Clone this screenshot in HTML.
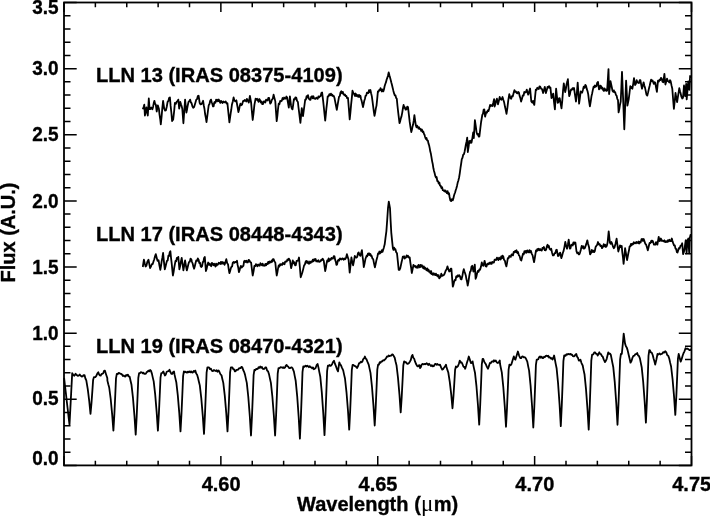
<!DOCTYPE html>
<html><head><meta charset="utf-8">
<style>
html,body{margin:0;padding:0;background:#fff;}
body{width:710px;height:517px;overflow:hidden;}
svg{display:block;will-change:transform;}
.b{font-family:"Liberation Sans",sans-serif;font-weight:bold;font-size:20.0px;fill:#000;stroke:#000;stroke-width:0.35px;}
.lab{font-size:20.1px;}
.mu{font-family:"Liberation Serif",serif;font-weight:normal;stroke-width:0;font-size:23px;}
</style></head><body>
<svg width="710" height="517" viewBox="0 0 710 517">
<rect x="64.0" y="2.5" width="627.5" height="462.9" fill="none" stroke="#000" stroke-width="1.8"/>
<path d="M64.00 465.4V456.00M64.00 2.5V11.90M95.37 465.4V460.70M95.37 2.5V7.20M126.75 465.4V460.70M126.75 2.5V7.20M158.13 465.4V460.70M158.13 2.5V7.20M189.50 465.4V460.70M189.50 2.5V7.20M220.87 465.4V456.00M220.87 2.5V11.90M252.25 465.4V460.70M252.25 2.5V7.20M283.63 465.4V460.70M283.63 2.5V7.20M315.00 465.4V460.70M315.00 2.5V7.20M346.37 465.4V460.70M346.37 2.5V7.20M377.75 465.4V456.00M377.75 2.5V11.90M409.13 465.4V460.70M409.13 2.5V7.20M440.50 465.4V460.70M440.50 2.5V7.20M471.87 465.4V460.70M471.87 2.5V7.20M503.25 465.4V460.70M503.25 2.5V7.20M534.63 465.4V456.00M534.63 2.5V11.90M566.00 465.4V460.70M566.00 2.5V7.20M597.37 465.4V460.70M597.37 2.5V7.20M628.75 465.4V460.70M628.75 2.5V7.20M660.13 465.4V460.70M660.13 2.5V7.20M691.50 465.4V456.00M691.50 2.5V11.90M64.0 465.40H76.70M691.5 465.40H678.80M64.0 452.17H70.50M691.5 452.17H685.00M64.0 438.95H70.50M691.5 438.95H685.00M64.0 425.72H70.50M691.5 425.72H685.00M64.0 412.50H70.50M691.5 412.50H685.00M64.0 399.27H76.70M691.5 399.27H678.80M64.0 386.05H70.50M691.5 386.05H685.00M64.0 372.82H70.50M691.5 372.82H685.00M64.0 359.59H70.50M691.5 359.59H685.00M64.0 346.37H70.50M691.5 346.37H685.00M64.0 333.14H76.70M691.5 333.14H678.80M64.0 319.92H70.50M691.5 319.92H685.00M64.0 306.69H70.50M691.5 306.69H685.00M64.0 293.47H70.50M691.5 293.47H685.00M64.0 280.24H70.50M691.5 280.24H685.00M64.0 267.01H76.70M691.5 267.01H678.80M64.0 253.79H70.50M691.5 253.79H685.00M64.0 240.56H70.50M691.5 240.56H685.00M64.0 227.34H70.50M691.5 227.34H685.00M64.0 214.11H70.50M691.5 214.11H685.00M64.0 200.89H76.70M691.5 200.89H678.80M64.0 187.66H70.50M691.5 187.66H685.00M64.0 174.43H70.50M691.5 174.43H685.00M64.0 161.21H70.50M691.5 161.21H685.00M64.0 147.98H70.50M691.5 147.98H685.00M64.0 134.76H76.70M691.5 134.76H678.80M64.0 121.53H70.50M691.5 121.53H685.00M64.0 108.31H70.50M691.5 108.31H685.00M64.0 95.08H70.50M691.5 95.08H685.00M64.0 81.85H70.50M691.5 81.85H685.00M64.0 68.63H76.70M691.5 68.63H678.80M64.0 55.40H70.50M691.5 55.40H685.00M64.0 42.18H70.50M691.5 42.18H685.00M64.0 28.95H70.50M691.5 28.95H685.00M64.0 15.73H70.50M691.5 15.73H685.00M64.0 2.50H76.70M691.5 2.50H678.80" stroke="#000" stroke-width="1.5" fill="none"/>
<polyline points="142.8,109.2 143.6,107.1 144.3,104.7 144.9,115.5 145.7,111.9 146.4,107.5 147.1,111.9 147.8,115.5 148.8,98.5 149.6,109.2 150.4,109.1 151.3,107.5 152.4,109.2 153.1,106.7 153.7,103.3 154.4,100.8 155.1,103.9 155.8,104.7 156.7,111.5 157.8,105.3 158.9,108.7 159.5,114.3 160.2,119.0 160.8,124.4 161.6,116.7 162.3,108.3 163.1,100.8 164.2,108.7 165.1,110.5 165.9,110.4 166.8,106.5 167.6,101.9 168.4,100.9 169.1,98.0 169.9,97.4 170.6,105.7 171.4,113.0 172.1,121.1 173.2,119.4 174.1,111.6 174.9,103.0 175.8,103.8 176.6,101.9 177.4,101.2 178.3,99.6 179.2,108.7 180.3,101.9 181.0,104.3 181.6,106.1 182.3,108.7 183.4,123.3 184.2,111.9 185.1,99.6 185.8,106.4 186.4,112.6 187.1,109.2 187.8,105.2 188.5,101.9 189.3,101.2 190.1,99.6 190.9,102.5 191.6,103.2 192.4,106.4 193.2,107.7 194.1,107.0 194.8,104.7 195.6,101.9 196.3,99.6 197.1,99.0 197.8,96.1 198.6,95.7 199.7,103.0 200.6,104.4 201.4,104.2 202.2,103.0 203.1,100.8 203.8,105.5 204.5,109.0 205.1,114.0 205.8,117.7 206.5,122.2 207.2,117.0 208.0,110.5 208.7,105.3 209.5,104.0 210.2,100.7 211.0,99.6 211.7,102.2 212.3,103.8 213.0,106.4 213.6,106.3 214.3,102.5 214.9,101.9 215.5,102.7 216.1,99.6 216.7,101.0 217.3,99.7 218.0,101.3 218.8,99.5 219.5,101.4 220.3,102.9 221.0,100.8 221.8,102.0 222.5,103.1 223.3,101.5 224.0,102.0 224.8,102.4 225.7,101.4 226.6,103.5 227.4,103.1 228.1,109.8 228.7,115.7 229.4,122.3 230.0,118.2 230.7,113.2 231.3,109.5 231.9,104.8 232.8,101.4 233.6,97.5 234.4,100.4 235.3,101.4 236.4,100.3 237.1,104.5 237.7,107.8 238.4,112.1 239.1,109.6 239.7,106.2 240.4,103.7 241.2,105.2 242.0,104.8 243.2,100.8 243.9,101.1 244.7,100.0 245.4,100.3 246.2,101.5 246.9,98.8 247.7,100.3 248.8,102.5 249.9,95.8 251.1,102.5 251.9,111.6 252.7,120.0 253.6,112.7 254.4,104.8 255.6,98.6 256.3,99.8 257.1,98.8 257.8,100.3 258.6,101.8 259.3,99.0 260.1,100.3 260.8,102.6 261.6,101.5 262.3,104.2 263.1,104.0 263.8,101.3 264.6,101.4 265.3,102.5 266.1,99.6 266.8,100.3 267.6,100.5 268.3,98.0 269.1,98.0 270.2,103.7 271.0,102.7 271.9,99.7 272.8,98.6 273.6,94.6 274.5,98.1 275.3,101.4 276.0,111.6 276.7,121.1 277.4,115.7 278.0,109.1 278.7,103.7 279.4,104.2 280.2,100.9 280.9,101.4 281.8,100.7 282.6,98.0 283.4,99.2 284.1,97.5 284.9,98.6 285.6,98.7 286.4,96.5 287.1,97.5 288.0,102.9 288.8,107.6 289.9,96.3 290.5,101.3 291.1,105.9 291.8,108.6 292.5,109.3 293.2,104.5 293.9,99.2 294.7,99.5 295.4,97.3 296.2,97.5 297.0,100.8 297.9,102.0 298.5,107.5 299.1,112.1 299.8,117.9 300.4,122.8 301.1,115.6 301.8,108.2 303.0,116.1 303.7,110.8 304.5,105.0 305.2,99.7 305.9,99.6 306.6,96.1 307.3,97.6 308.0,95.2 308.9,98.7 309.7,99.7 310.5,99.9 311.2,96.7 312.0,96.3 312.7,98.2 313.4,96.3 314.1,98.6 314.8,98.6 315.5,98.9 316.3,97.7 317.0,98.0 317.7,98.8 318.4,96.4 319.2,97.3 319.9,96.3 320.6,96.1 321.4,92.9 322.1,92.4 323.2,101.4 323.9,108.0 324.5,114.0 325.2,120.6 325.8,114.8 326.4,108.3 327.1,102.6 327.7,96.3 328.5,96.4 329.4,94.1 330.1,95.2 330.9,93.6 331.6,95.4 332.3,94.6 333.0,96.2 333.8,96.0 334.5,98.0 335.3,102.2 336.0,105.7 336.8,109.9 337.5,105.7 338.3,100.8 339.0,96.9 339.8,96.0 340.5,92.5 341.3,91.3 342.0,93.3 342.8,91.9 343.5,94.1 344.2,95.0 344.9,94.5 345.6,96.0 346.3,95.8 347.1,98.1 348.0,98.0 348.9,108.9 349.7,119.4 350.4,112.6 351.1,104.7 351.8,98.2 352.5,90.7 353.4,93.1 354.2,94.1 354.9,95.9 355.6,93.5 356.2,96.1 356.9,94.8 357.6,95.8 358.3,96.9 359.0,94.9 359.7,96.9 360.4,95.8 361.0,98.8 361.7,101.1 362.4,104.4 363.0,107.0 363.6,104.4 364.2,101.0 364.9,99.0 365.5,95.8 366.2,95.6 367.0,92.6 367.7,93.0 368.4,93.0 369.0,90.1 369.7,92.0 370.4,90.0 371.1,93.3 371.8,96.1 372.5,101.2 373.1,105.8 373.8,111.3 374.5,115.8 375.2,112.5 375.8,108.6 376.5,105.6 377.2,98.9 377.9,91.4 378.5,91.7 379.2,90.0 379.9,90.4 380.5,88.2 381.2,89.4 381.9,91.5 382.6,89.5 383.3,91.4 384.0,89.2 384.6,86.2 385.3,84.0 386.0,82.2 386.6,79.7 387.3,77.9 388.0,75.5 388.7,72.4 389.4,75.2 390.0,77.2 390.7,79.9 391.4,82.8 392.0,85.0 392.7,88.0 393.4,90.9 394.1,93.4 394.8,95.4 395.5,95.5 396.1,97.9 396.8,98.8 397.5,106.0 398.2,112.4 398.9,118.2 399.5,123.2 400.2,121.1 400.8,118.5 401.5,116.4 402.2,112.8 402.9,108.3 403.6,104.9 404.3,107.8 404.9,107.3 405.6,109.7 406.4,109.5 407.2,106.7 408.0,107.0 408.9,114.8 409.7,121.9 410.5,127.4 411.3,132.0 411.9,129.8 412.5,126.7 413.1,124.6 413.8,120.2 414.4,115.1 415.1,120.4 415.8,125.2 416.5,127.3 417.1,125.6 417.8,126.9 418.5,128.6 419.1,127.3 419.8,129.0 420.5,128.8 421.2,130.9 421.9,129.5 422.6,132.1 423.3,131.5 423.9,133.7 424.5,134.8 425.1,137.0 425.8,138.8 426.5,138.0 427.2,140.5 427.9,140.7 428.5,143.6 429.1,145.3 429.7,148.1 430.3,151.6 430.9,153.8 431.5,157.3 432.1,161.1 432.8,164.3 433.4,168.3 434.0,170.9 434.6,173.0 435.2,175.6 435.9,177.5 436.6,177.0 437.3,181.0 438.0,181.1 438.7,183.6 439.4,182.6 440.0,185.6 440.7,185.7 441.4,188.1 442.1,187.2 442.8,190.2 443.5,190.3 444.2,191.2 444.9,190.2 445.5,191.7 446.2,191.2 446.9,193.1 447.6,191.1 448.3,194.0 449.0,193.1 449.6,197.0 450.3,200.4 451.1,201.1 451.9,199.1 452.7,200.4 453.3,198.7 453.9,196.0 454.5,194.0 455.1,192.5 455.7,190.2 456.3,188.5 457.0,185.9 457.7,182.6 458.4,180.4 459.1,177.5 459.8,173.1 460.5,167.9 461.1,164.0 461.8,159.1 462.5,157.8 463.2,154.8 463.9,154.3 464.6,151.7 465.2,148.5 465.9,144.5 466.6,141.5 467.2,137.6 467.8,152.0 468.6,146.8 469.3,141.0 470.0,143.0 470.8,140.7 471.5,142.7 472.4,137.8 473.2,132.5 473.8,138.2 474.9,120.1 475.8,126.5 476.6,132.5 477.3,134.5 478.0,133.9 478.7,136.6 479.4,136.5 480.2,129.4 481.1,122.0 482.3,115.0 483.0,113.6 483.6,109.8 484.3,109.4 485.1,116.7 486.2,112.2 487.0,112.6 487.7,110.4 488.5,111.1 489.3,108.3 490.1,104.9 490.9,106.0 491.6,105.1 492.4,106.0 493.2,103.0 494.1,99.2 494.6,106.5 495.4,104.3 496.1,100.9 496.9,98.7 498.0,104.3 498.9,100.8 499.7,97.0 500.5,99.1 501.4,99.8 502.5,97.0 503.4,100.1 504.2,102.6 505.0,106.8 505.7,109.8 506.5,113.9 507.4,107.8 508.2,100.9 509.3,94.2 510.4,98.1 511.2,98.7 511.9,96.2 512.7,96.4 513.5,93.6 514.4,90.2 515.1,91.9 515.9,91.4 516.6,93.0 517.4,93.4 518.1,91.9 518.9,92.5 519.6,95.9 520.4,98.2 521.1,101.5 522.0,98.7 522.8,95.3 523.6,95.5 524.3,92.0 525.1,92.5 526.0,91.9 526.8,89.6 527.5,92.4 528.2,94.7 528.8,92.9 529.5,90.3 530.1,88.5 531.3,101.5 532.1,102.5 533.0,100.9 533.6,103.3 534.3,104.9 535.0,97.5 535.8,89.6 536.5,90.0 537.3,87.8 538.0,88.5 538.8,89.0 539.5,86.3 540.3,86.8 541.1,88.7 542.0,89.1 543.1,93.0 544.0,90.0 544.8,86.8 545.9,93.0 546.8,90.1 547.6,86.8 548.3,87.5 549.0,86.1 549.7,87.8 550.4,87.4 551.5,98.1 552.4,96.4 553.2,93.6 554.0,101.8 554.9,109.4 555.5,99.3 556.1,88.7 556.9,96.2 557.7,102.9 558.4,102.3 559.0,98.4 559.7,98.2 560.6,103.4 561.5,108.3 562.3,100.3 563.0,91.2 563.8,83.3 564.5,87.9 565.2,92.1 565.9,88.8 566.5,84.6 567.2,82.1 567.9,79.2 568.5,88.0 569.2,96.1 569.9,94.3 570.5,91.2 571.2,89.4 571.9,89.8 572.6,88.1 573.3,89.3 574.0,88.0 574.7,92.9 575.3,96.8 576.0,101.5 576.9,92.5 577.7,82.6 578.4,93.3 579.1,103.6 579.9,97.9 580.7,91.4 581.4,92.5 582.1,92.7 582.9,89.9 583.7,86.7 584.5,87.9 585.3,84.9 586.1,86.0 586.8,89.1 587.5,91.0 588.2,94.1 589.0,100.6 589.9,106.3 590.7,101.6 591.5,96.1 592.2,93.2 592.9,89.6 593.6,86.7 594.3,87.3 594.9,85.5 595.6,86.7 596.4,86.3 597.2,82.8 598.0,81.9 599.0,89.4 599.7,88.8 600.3,85.7 601.0,86.0 601.7,88.6 602.4,87.6 603.1,90.0 603.8,90.9 604.5,88.4 605.1,90.5 605.8,89.4 606.5,90.9 607.1,90.7 607.8,80.1 608.5,69.1 609.1,94.1 609.8,87.9 610.5,81.2 611.2,84.5 611.8,87.2 612.5,90.7 613.2,91.9 613.9,90.4 614.5,92.3 615.2,92.1 615.9,94.9 616.6,95.6 617.3,98.8 618.0,100.2 618.6,112.4 619.3,109.0 620.0,104.7 620.7,101.5 621.4,86.9 622.0,71.8 622.7,89.0 623.4,105.6 624.3,129.3 624.9,113.4 625.5,96.6 626.1,80.6 626.8,93.2 627.4,105.6 628.0,102.8 628.7,99.4 629.5,93.0 630.3,86.1 631.0,88.1 631.7,86.9 632.4,88.7 633.2,83.8 634.0,78.1 635.1,85.0 635.9,83.8 636.7,80.2 637.5,82.3 638.3,82.9 639.0,83.0 639.7,80.1 640.4,80.2 641.2,84.7 642.0,88.7 642.8,85.8 643.6,82.3 644.3,85.5 645.0,87.6 645.7,90.9 646.5,94.7 647.3,95.6 648.1,92.4 648.9,88.7 649.6,86.0 650.4,82.5 651.1,79.7 651.8,81.1 652.5,80.4 653.2,82.3 653.9,83.9 654.6,82.1 655.3,82.9 656.1,87.8 656.9,91.9 658.0,80.7 658.8,81.6 659.6,79.7 660.3,80.1 661.0,77.8 661.7,78.6 662.5,81.8 663.3,82.3 664.4,73.8 665.4,84.5 666.2,81.8 667.0,78.6 667.8,81.1 668.6,81.3 669.3,82.5 670.0,80.2 670.7,81.3 671.5,85.4 672.3,88.7 673.1,99.2 673.9,108.9 674.7,101.4 675.5,93.0 676.3,97.8 677.1,102.0 677.8,97.6 678.6,92.6 679.3,88.2 680.0,91.2 680.7,93.6 681.4,96.7 682.2,98.5 683.0,97.8 684.0,85.5 685.1,96.2 686.2,83.9 686.7,99.4 687.5,90.5 688.3,81.3 689.4,89.8 690.1,76.0 691.0,78.0" fill="none" stroke="#000" stroke-width="1.8" stroke-linejoin="round"/>
<polyline points="142.8,267.0 143.9,259.7 144.8,263.5 145.6,266.5 146.4,265.7 147.3,262.0 148.5,259.7 149.3,264.1 150.1,268.2 150.9,266.7 151.8,264.2 152.7,264.1 153.5,261.4 154.3,259.3 155.0,256.2 155.8,254.1 156.7,257.7 157.5,260.8 158.6,260.3 159.4,265.4 160.3,269.9 161.0,266.0 161.7,261.1 162.4,257.4 163.1,253.0 163.9,261.4 164.8,269.3 165.5,266.7 166.3,263.3 167.0,260.8 167.7,260.4 168.4,255.6 169.0,256.1 169.7,252.3 170.4,251.3 171.0,257.6 171.7,263.3 172.3,269.6 172.9,275.5 173.6,272.1 174.2,267.9 174.8,264.7 175.5,260.8 176.2,261.2 176.9,257.8 177.6,258.9 178.3,256.9 179.4,269.3 180.2,265.7 180.9,261.6 181.7,258.0 182.6,264.4 183.4,270.4 184.2,265.5 185.1,260.3 185.9,265.6 186.8,270.4 187.5,268.0 188.3,264.5 189.0,262.0 189.8,261.7 190.5,258.7 191.3,259.2 192.0,262.0 192.7,263.6 193.4,266.7 194.1,268.7 194.8,266.3 195.6,262.7 196.3,260.3 197.1,260.9 197.8,258.4 198.6,259.7 199.3,263.0 200.0,262.7 200.7,266.4 201.4,267.0 202.1,266.2 202.8,262.0 203.4,261.9 204.1,258.0 204.8,256.9 205.9,271.0 206.7,268.6 207.4,265.0 208.2,262.5 208.9,264.8 209.7,263.6 210.4,265.4 211.2,266.2 211.9,262.9 212.7,263.7 213.4,265.2 214.2,263.8 214.9,265.4 215.5,266.5 216.1,263.6 216.7,265.5 217.3,264.2 218.0,264.5 218.8,262.7 219.5,263.1 220.2,264.0 220.9,261.9 221.6,263.7 222.3,262.0 223.1,263.7 223.8,262.5 224.6,264.8 225.4,262.2 226.3,259.2 227.2,263.2 228.0,264.2 228.7,269.1 229.4,273.2 230.0,271.4 230.7,268.8 231.3,267.0 232.1,266.5 232.8,262.6 233.6,262.0 234.4,262.8 235.3,262.0 236.2,262.1 237.0,260.8 237.6,264.9 238.3,267.9 238.9,272.1 239.6,270.4 240.2,267.8 240.9,265.9 241.8,267.5 242.6,266.5 243.4,265.8 244.1,261.3 244.9,260.8 245.6,262.0 246.4,260.7 247.1,262.5 247.9,262.3 248.6,259.9 249.4,260.3 250.2,262.1 251.1,262.5 251.9,269.2 252.7,275.5 253.6,271.1 254.4,265.9 255.2,266.1 255.9,264.2 256.7,264.8 257.4,266.3 258.2,264.5 258.9,265.4 259.7,265.7 260.4,263.2 261.2,264.2 261.9,265.4 262.6,263.6 263.3,265.6 264.0,265.4 264.7,265.8 265.4,263.9 266.1,265.3 266.8,263.7 267.5,264.0 268.2,261.8 268.8,263.5 269.5,261.5 270.2,262.5 270.9,262.3 271.6,260.5 272.2,261.8 272.9,259.2 273.6,259.2 274.5,261.5 275.3,262.5 276.0,269.4 276.7,275.5 277.4,272.4 278.0,268.6 278.7,265.4 279.4,266.6 280.1,264.2 280.8,265.0 281.5,264.2 282.2,264.8 283.0,262.8 283.7,263.7 284.5,264.2 285.2,261.6 286.0,261.4 286.7,261.5 287.4,259.5 288.1,260.2 288.8,258.6 290.0,260.4 291.1,268.2 292.0,264.7 292.8,260.4 293.6,263.3 294.3,262.3 295.1,265.4 295.8,265.1 296.6,261.0 297.3,260.9 298.1,260.4 299.0,257.5 299.9,267.7 300.7,277.3 301.5,275.0 302.4,272.2 303.2,269.1 304.1,265.4 304.8,264.7 305.6,261.8 306.3,260.9 307.1,262.8 307.8,261.4 308.6,263.7 309.3,263.7 310.0,261.5 310.7,262.9 311.4,261.5 312.1,261.9 312.8,259.7 313.5,261.2 314.2,259.2 314.9,260.3 315.6,259.0 316.3,261.4 317.0,260.9 317.7,261.5 318.4,260.2 319.2,261.9 319.9,261.5 320.6,261.3 321.3,259.6 322.0,260.0 322.7,258.7 323.8,260.9 324.5,266.2 325.2,271.1 325.9,267.9 326.5,263.7 327.2,260.4 327.9,261.6 328.6,258.4 329.3,261.0 330.0,259.2 330.8,259.7 331.5,257.9 332.3,258.7 333.0,258.6 333.8,256.1 334.5,256.4 335.1,259.6 335.8,261.7 336.4,264.9 337.1,264.4 337.8,260.8 338.5,259.8 339.2,260.5 340.0,258.4 340.7,259.2 341.5,259.5 342.2,258.4 343.0,258.7 343.7,259.7 344.5,258.5 345.2,259.2 346.0,257.9 346.9,254.2 347.8,257.2 348.6,259.8 349.7,272.7 350.5,265.3 351.4,257.5 352.2,261.6 353.1,265.4 354.0,260.8 354.8,255.8 355.6,257.3 356.5,257.5 357.2,256.8 358.0,253.2 358.7,252.5 359.5,254.9 360.4,255.8 361.1,253.3 361.9,250.2 362.5,256.0 363.2,261.0 363.8,267.1 364.6,263.3 365.5,258.7 366.6,255.8 367.2,256.4 367.9,253.6 368.5,254.9 369.1,253.3 369.7,255.0 370.4,254.0 371.0,256.1 371.6,255.8 372.4,258.5 373.2,259.1 374.0,263.4 374.9,267.3 375.7,263.8 376.5,259.9 377.3,257.0 378.1,253.3 378.7,253.7 379.4,251.5 380.0,253.5 380.6,251.7 381.2,252.4 381.9,250.1 382.5,251.9 383.1,250.0 383.9,247.4 384.7,244.3 385.5,237.8 386.4,231.1 387.2,220.0 388.0,208.1 388.8,201.6 390.0,208.1 390.6,220.6 391.3,232.8 392.1,240.8 392.9,248.4 393.5,249.9 394.1,247.6 394.8,249.5 395.4,249.2 396.2,252.2 397.0,253.3 397.9,261.8 398.7,269.8 399.5,269.9 400.3,268.1 400.9,265.4 401.6,262.0 402.2,259.6 402.8,256.6 403.4,257.5 404.1,256.2 404.7,258.6 405.3,257.4 406.0,257.5 406.6,255.4 407.3,256.9 408.0,255.8 408.9,257.7 409.7,257.4 410.4,262.9 411.1,267.5 411.8,273.0 412.6,269.3 413.5,264.8 414.3,266.5 415.1,265.9 415.9,267.3 416.6,267.6 417.2,266.1 417.9,267.7 418.5,264.9 419.2,265.7 419.9,267.3 420.5,264.8 421.2,266.7 421.8,265.2 422.5,266.5 423.2,268.2 423.8,266.3 424.5,268.9 425.1,267.6 425.8,268.9 426.5,270.2 427.2,268.4 427.9,270.9 428.5,269.6 429.2,271.9 429.9,271.4 430.5,273.3 431.1,271.0 431.7,274.2 432.3,273.2 433.0,274.9 433.8,273.2 434.5,274.3 435.2,275.1 435.9,273.6 436.6,275.5 437.3,274.9 437.9,276.5 438.6,275.1 439.2,278.4 439.9,277.7 440.6,276.8 441.3,273.7 442.1,275.9 443.0,275.4 443.8,275.1 444.6,273.7 445.8,270.4 446.6,269.2 447.5,266.4 448.4,269.4 449.2,271.5 449.9,271.2 450.7,268.7 451.4,268.7 452.1,277.9 452.8,286.7 453.5,284.6 454.1,281.7 454.8,279.9 455.5,280.3 456.2,276.5 456.9,277.1 457.6,275.4 458.4,276.4 459.1,275.1 459.9,276.0 460.7,278.9 461.5,279.4 462.3,276.3 463.0,272.3 463.8,269.2 464.5,271.6 465.1,273.2 465.8,275.4 466.4,279.1 467.1,281.8 467.7,285.6 468.5,281.4 469.2,276.4 470.0,272.0 470.8,270.9 471.5,266.7 472.3,265.8 473.4,271.5 474.1,268.3 474.8,264.7 475.6,278.8 476.4,276.6 477.1,273.3 477.9,270.9 478.6,271.7 479.4,269.3 480.1,269.8 481.0,266.6 481.8,262.5 482.6,265.4 483.5,265.8 484.6,260.8 485.8,266.4 486.5,266.5 487.3,263.9 488.0,263.6 488.7,264.2 489.4,262.6 490.1,263.8 490.8,262.5 491.6,263.9 492.3,261.9 493.1,262.5 493.9,262.5 494.6,259.6 495.4,259.6 496.1,260.1 496.9,257.7 497.6,258.5 498.4,260.1 499.1,257.7 499.9,259.1 500.6,259.5 501.2,256.5 501.9,258.2 502.5,255.6 503.2,256.3 504.0,259.7 504.9,260.8 505.6,264.0 506.4,266.4 507.1,262.7 507.8,258.2 508.6,258.3 509.3,256.0 510.1,256.5 510.8,256.8 511.6,254.3 512.3,254.9 513.0,255.4 513.7,251.8 514.4,252.4 515.1,250.9 515.8,252.1 516.5,250.3 517.3,253.1 518.0,252.0 518.8,255.1 519.6,256.0 520.5,259.6 521.3,260.5 522.1,257.2 523.0,253.7 523.7,254.4 524.4,251.1 525.1,252.7 525.8,250.9 526.6,252.7 527.3,250.3 528.1,252.0 528.8,252.3 529.5,250.1 530.2,252.4 530.9,250.9 531.8,253.8 532.6,255.4 533.4,259.2 534.1,262.2 534.7,258.6 535.4,254.1 536.0,250.4 536.7,251.3 537.4,249.0 538.1,250.2 538.8,248.7 539.6,250.2 540.3,249.1 541.1,250.4 541.8,250.6 542.5,247.8 543.2,248.5 543.9,247.0 544.8,250.2 545.6,250.4 546.3,249.0 546.9,246.1 547.6,244.7 548.2,247.0 548.9,246.0 549.5,248.7 550.4,249.8 551.2,248.7 552.0,252.4 552.9,255.4 553.8,255.3 554.6,253.2 555.3,253.2 556.1,250.1 556.8,249.8 557.4,253.1 558.0,256.0 558.7,255.8 559.5,253.3 560.2,252.6 561.3,258.2 562.1,255.9 562.8,253.0 563.6,250.9 564.5,246.6 565.3,241.9 566.1,245.7 567.0,248.7 567.9,244.5 568.7,239.6 569.8,248.7 570.5,248.2 571.3,244.9 572.0,244.7 572.7,245.5 573.4,242.5 574.0,244.0 574.7,242.3 575.4,242.5 576.5,251.5 577.3,253.3 578.0,252.4 578.8,254.3 579.4,254.3 580.0,252.7 580.9,249.4 581.7,245.9 582.4,247.9 583.2,246.3 583.9,248.7 584.8,248.1 585.6,245.9 586.5,243.4 587.3,240.3 588.1,243.9 589.0,247.0 590.1,254.4 591.0,253.1 591.8,249.9 592.6,252.0 593.3,250.6 594.1,252.1 594.8,251.2 595.6,247.0 596.3,245.9 597.1,245.0 598.0,242.0 598.9,244.5 599.7,244.2 600.5,246.1 601.2,245.6 602.0,248.2 602.9,247.0 603.7,244.2 604.4,246.3 605.2,244.8 605.9,247.0 606.8,245.9 607.6,242.5 608.7,231.3 609.9,242.5 610.6,243.8 611.4,242.0 612.1,243.7 613.0,246.5 613.8,248.2 614.6,247.1 615.5,243.7 616.6,238.6 617.5,245.3 618.3,251.5 619.1,248.8 620.0,245.4 620.9,247.0 621.7,245.9 622.3,252.3 623.0,257.6 623.6,263.9 624.4,256.3 625.1,248.2 625.8,252.3 626.4,255.8 627.1,260.0 627.7,256.8 628.4,253.0 629.0,250.3 629.6,246.5 630.3,246.4 631.0,243.8 631.7,245.2 632.4,243.7 633.1,244.2 633.8,242.3 634.5,243.3 635.2,242.5 636.0,243.4 636.7,241.9 637.5,242.5 638.1,243.3 638.8,241.5 639.4,243.5 640.0,242.0 640.7,242.4 641.5,239.1 642.2,239.0 642.9,240.8 643.7,239.0 644.4,241.1 645.2,243.6 646.1,244.6 647.0,247.6 647.8,250.3 648.4,248.0 649.0,245.2 649.6,242.9 650.5,243.0 651.3,240.7 651.9,242.0 652.5,240.7 653.1,242.0 654.0,244.6 654.8,244.6 655.4,244.7 656.0,242.2 656.6,242.9 657.4,244.6 658.0,241.0 658.7,236.8 659.6,241.1 660.2,240.7 660.9,238.5 661.8,240.9 662.6,240.7 663.5,241.3 664.4,240.3 665.2,242.1 666.1,241.1 667.0,242.1 667.9,240.3 668.6,241.5 669.4,239.7 670.1,241.1 671.0,241.2 671.8,238.5 672.5,241.1 673.1,242.9 674.0,245.4 674.8,245.5 675.5,248.6 676.2,249.0 676.9,252.2 677.5,252.5 678.1,250.7 678.8,248.1 679.6,248.5 680.5,245.9 681.4,245.4 682.2,243.3 683.1,254.2 683.8,252.3 684.4,249.8 685.0,245.4 685.7,240.3 686.6,253.3 687.5,240.3 688.3,238.5 689.2,253.3 689.7,238.5 690.5,235.0 691.0,236.0" fill="none" stroke="#000" stroke-width="1.8" stroke-linejoin="round"/>
<polyline points="64.1,377.9 65.0,385.8 65.9,393.4 66.8,401.5 67.7,409.0 68.6,417.1 69.5,424.7 70.4,407.6 71.3,390.2 72.2,373.1 73.2,375.0 74.3,375.8 75.6,373.8 76.7,375.1 77.7,375.8 78.7,375.6 79.7,374.5 80.7,375.8 81.7,376.5 82.6,376.3 83.6,375.1 84.5,375.1 85.4,378.5 86.3,380.4 87.8,389.4 89.3,401.6 90.5,413.8 91.5,402.8 92.4,390.4 93.1,380.1 93.9,377.2 95.3,377.2 96.3,375.9 97.3,373.6 98.3,372.3 99.1,374.5 99.9,375.5 100.7,375.7 101.6,373.9 102.4,373.9 103.2,373.3 104.1,370.9 104.9,370.6 106.1,374.4 107.3,378.0 107.4,380.6 108.3,384.3 109.2,387.5 110.7,399.0 112.2,414.8 113.4,430.6 114.4,413.6 115.3,394.3 116.0,378.4 116.8,373.9 117.7,374.0 118.7,373.0 119.6,373.1 120.4,373.9 121.3,373.8 122.1,374.7 122.9,376.0 123.8,375.5 124.6,376.4 125.4,376.5 126.2,375.0 127.1,375.6 127.9,374.7 128.8,376.4 129.7,376.9 130.6,381.0 131.5,384.8 133.0,398.2 134.5,416.5 135.7,434.7 136.7,416.2 137.6,395.3 138.3,378.0 139.1,373.1 140.0,373.1 140.9,372.2 141.8,372.3 142.6,373.3 143.4,372.6 144.3,373.9 145.1,373.9 145.9,373.6 146.8,371.8 147.6,371.8 148.4,370.6 149.2,371.3 150.1,370.0 150.9,370.6 151.9,373.6 152.8,377.6 153.7,381.4 155.2,394.6 156.7,412.6 157.9,430.6 158.9,413.4 159.8,393.8 160.5,377.7 161.3,373.1 161.5,373.1 162.4,372.8 163.3,371.4 164.9,375.5 165.7,374.7 166.6,372.0 167.4,371.4 168.4,371.2 169.5,369.8 170.5,372.3 171.5,373.9 172.3,373.9 173.2,371.9 174.0,371.4 174.5,374.4 175.4,378.4 176.3,382.2 177.8,395.4 179.3,413.4 180.5,431.4 181.5,413.4 182.4,393.0 183.1,376.2 183.9,371.4 184.7,372.4 185.5,371.7 186.3,372.3 187.1,372.6 187.9,371.6 188.8,372.2 189.6,371.4 190.4,372.4 191.2,371.4 192.0,372.3 192.8,372.6 193.7,371.0 194.5,371.7 195.3,370.6 196.2,373.5 197.1,374.7 198.0,377.7 198.9,381.7 199.8,385.4 201.3,398.4 202.8,416.1 204.0,433.9 205.0,413.9 205.9,391.3 206.6,372.6 207.4,367.3 209.0,367.3 209.9,369.1 210.9,368.7 211.8,370.6 212.9,371.1 213.9,370.0 215.0,370.6 215.8,371.0 216.7,370.3 217.5,371.7 218.4,370.4 219.2,371.4 220.3,374.0 221.5,375.3 222.4,379.2 223.3,382.9 224.8,395.9 226.3,413.7 227.5,431.4 228.5,412.2 229.4,390.4 230.1,372.4 230.9,367.3 232.4,367.3 233.2,369.1 234.1,369.4 234.9,371.4 235.7,371.1 236.5,369.8 237.3,369.8 238.1,369.6 239.0,368.4 239.8,368.1 240.6,368.1 241.5,366.9 242.3,367.3 243.2,370.0 244.1,371.8 245.0,374.6 245.9,378.9 246.8,382.9 248.3,397.0 249.8,416.3 251.0,435.5 252.0,415.8 252.9,393.5 253.6,375.1 254.4,369.8 255.3,370.3 256.1,369.0 257.0,369.0 257.8,368.9 258.6,367.2 259.5,367.9 260.3,366.5 261.1,367.8 262.0,367.0 262.8,368.8 263.6,369.0 264.4,368.9 265.3,367.4 266.1,367.3 267.1,370.5 268.1,371.4 269.1,374.6 270.0,378.9 270.9,382.9 272.4,397.0 273.9,416.3 275.1,435.5 276.1,415.3 277.0,392.4 277.7,373.5 278.5,368.1 279.6,368.2 280.6,367.2 281.7,367.3 282.5,367.9 283.4,367.3 284.2,368.1 285.0,367.6 285.8,365.6 286.6,364.9 287.4,366.2 288.3,366.6 289.1,368.1 290.3,368.1 291.5,367.3 292.5,368.1 293.9,371.6 294.8,376.4 295.7,380.8 297.2,396.3 298.7,417.5 299.9,438.6 300.9,416.9 301.8,392.4 302.5,372.2 303.3,366.4 304.4,366.8 305.6,365.6 306.4,366.5 307.3,365.6 308.1,366.4 308.9,367.2 309.8,366.2 310.6,367.3 311.4,367.3 312.2,368.4 313.0,367.4 313.8,369.2 314.6,368.9 315.6,368.0 316.6,365.2 317.6,364.0 318.5,367.6 319.4,372.3 320.3,376.8 321.8,392.4 323.3,413.8 324.5,435.1 325.5,414.2 326.4,390.6 327.1,371.2 327.9,365.6 328.7,365.9 329.5,365.0 330.3,365.9 331.1,365.6 332.1,364.2 333.0,362.0 334.0,360.7 335.0,363.9 336.0,366.4 337.0,369.3 338.0,371.4 339.3,362.3 340.1,364.2 341.0,365.4 341.8,367.3 343.2,370.4 344.1,374.6 345.0,378.5 346.5,392.3 348.0,411.0 349.2,429.7 350.2,410.2 351.1,388.2 351.8,370.0 352.6,364.8 353.3,364.8 354.5,365.9 355.7,366.4 357.0,368.0 358.1,366.0 359.1,363.1 359.9,363.1 360.8,361.8 361.6,362.3 362.4,361.4 363.2,359.1 364.1,358.3 364.9,356.5 365.7,358.6 366.5,359.3 367.3,361.4 368.7,364.6 369.6,368.9 370.5,372.9 372.0,387.0 373.5,406.3 374.7,425.5 375.7,407.3 376.6,386.6 377.3,369.6 378.1,364.7 378.9,364.6 379.7,362.3 380.5,362.7 381.3,361.4 382.1,361.5 383.0,360.3 383.8,360.5 384.6,359.8 385.8,358.6 387.0,356.5 387.8,356.7 388.6,355.4 389.5,356.2 390.3,355.7 391.2,355.7 392.2,354.4 393.1,354.9 394.7,357.8 395.6,361.7 396.5,365.2 398.0,377.9 399.5,395.1 400.7,412.4 401.7,397.1 402.6,379.8 403.3,365.5 404.1,361.4 404.3,361.4 405.1,362.3 406.0,362.1 406.8,363.5 407.6,363.9 408.8,363.2 410.0,361.4 410.8,360.0 411.7,356.3 412.5,354.9 413.3,357.7 414.2,358.8 415.0,361.4 416.2,364.3 417.4,366.4 418.2,366.4 419.1,365.1 419.9,365.5 420.0,368.0 420.8,367.2 421.7,364.6 422.5,363.9 423.7,364.3 424.9,363.9 425.7,364.3 426.6,363.2 427.4,363.9 428.2,365.0 429.1,363.7 429.9,364.7 430.9,366.0 431.8,365.1 432.8,366.4 433.7,366.2 434.7,364.4 435.6,363.9 436.4,364.7 437.3,364.0 438.1,364.7 439.1,365.0 440.0,364.7 441.1,367.4 442.2,369.6 443.0,369.2 443.8,368.0 444.9,366.7 446.0,364.7 446.5,366.9 447.4,369.9 448.3,372.5 449.8,382.1 451.3,395.2 452.5,408.3 453.5,395.7 454.4,381.5 455.1,369.8 455.9,366.4 456.9,367.2 457.8,366.4 458.8,364.0 459.8,360.6 460.8,362.7 461.7,362.5 462.7,364.7 463.5,366.8 464.4,367.0 465.2,368.8 466.1,365.8 467.0,362.5 467.9,359.7 468.8,356.5 469.9,359.9 470.9,363.1 471.8,362.8 472.6,361.4 473.2,364.6 474.1,368.9 475.0,372.8 476.5,386.7 478.0,405.7 479.2,424.7 480.2,405.0 481.1,382.7 481.8,364.3 482.6,359.0 483.3,359.0 484.5,362.2 485.7,363.9 486.9,366.9 488.0,368.8 488.9,366.1 489.9,363.0 490.7,363.2 491.6,361.6 492.4,361.4 493.2,361.8 494.0,360.2 494.9,361.4 495.7,360.5 496.8,362.4 497.8,363.0 498.8,362.3 499.8,360.5 500.0,363.8 500.9,368.2 501.8,372.4 503.3,387.0 504.8,406.9 506.0,426.8 507.0,408.1 507.9,387.0 508.6,369.6 509.4,364.6 510.4,365.3 511.3,364.6 512.1,362.0 513.0,358.9 513.8,356.4 514.6,358.8 515.4,359.7 516.2,357.1 517.1,354.1 517.9,351.5 519.1,355.6 520.3,358.1 521.1,358.2 522.0,356.6 522.8,356.4 523.8,357.3 524.7,357.2 525.7,358.1 527.3,361.6 528.2,366.3 529.1,370.6 530.6,385.9 532.1,406.7 533.3,427.5 534.3,407.2 535.2,384.1 535.9,365.1 536.7,359.7 537.3,359.7 538.2,359.3 539.1,357.2 540.0,356.4 540.8,357.7 541.7,356.7 542.5,358.1 543.3,358.2 544.1,356.7 545.0,357.1 545.8,355.8 546.6,355.6 547.4,356.3 548.2,355.7 549.1,357.5 549.9,357.3 550.8,358.6 551.6,358.1 552.5,359.6 553.3,358.0 554.1,355.5 554.8,359.0 555.7,363.8 556.6,368.2 558.1,383.7 559.6,404.9 560.8,426.1 561.8,404.9 562.7,380.9 563.4,361.1 564.2,355.5 564.8,355.5 565.6,355.8 566.5,354.3 567.3,354.7 568.1,353.9 569.3,354.3 570.5,353.9 571.3,354.9 572.1,354.6 573.0,356.2 573.8,356.4 574.6,356.0 575.5,354.4 576.3,353.9 577.1,356.8 578.0,357.9 578.8,360.5 579.6,360.5 580.4,359.6 581.5,363.1 582.7,365.5 583.6,370.1 584.5,374.2 586.0,389.1 587.5,409.4 588.7,429.6 589.7,407.1 590.6,381.7 591.3,360.7 592.1,354.7 592.4,354.7 593.3,354.4 594.3,352.3 595.2,352.3 596.0,353.9 596.9,353.9 597.7,355.5 599.3,352.3 600.1,353.9 601.0,354.1 601.8,355.9 602.6,356.4 603.8,359.6 605.0,362.1 605.9,360.7 606.7,358.8 608.3,352.3 609.1,353.8 610.0,353.6 610.8,354.7 611.5,358.2 612.4,362.9 613.3,367.3 614.8,382.7 616.3,403.8 617.5,424.8 618.5,403.6 619.4,379.5 620.1,359.7 620.9,354.0 621.8,354.0 622.8,344.0 623.7,333.7 625.0,343.4 625.9,346.2 626.7,347.4 627.6,350.1 628.6,354.5 629.5,358.3 630.5,362.7 631.5,361.1 632.4,357.9 633.4,355.9 634.4,355.7 635.3,354.1 636.2,354.1 637.2,353.0 638.1,355.5 639.0,356.1 639.9,358.4 640.8,362.9 641.7,367.2 643.2,382.0 644.7,402.3 645.9,422.6 646.9,400.9 647.8,376.2 648.5,355.9 649.3,350.1 649.8,350.1 650.8,352.4 651.7,352.6 652.7,355.0 653.5,358.3 654.4,361.2 655.2,364.6 656.4,359.5 657.5,354.0 658.5,354.5 659.5,353.4 660.4,354.5 661.4,354.0 662.3,353.6 663.3,352.1 664.3,352.6 665.2,351.3 666.2,352.1 667.2,355.0 668.3,355.9 669.3,358.8 670.2,362.9 671.1,366.5 672.6,379.5 674.1,397.2 675.3,414.9 676.3,396.6 677.2,375.9 677.9,358.9 678.7,354.0 679.7,358.0 680.7,361.7 681.7,359.0 682.6,355.7 683.6,353.0 684.5,351.3 685.5,348.2 686.5,348.9 687.4,348.6 688.4,349.2 689.4,350.1 690.4,350.1 691.0,349.0" fill="none" stroke="#000" stroke-width="1.8" stroke-linejoin="round"/>
<text transform="translate(58.6 13.75) scale(0.95 1)" text-anchor="end" class="b">3.5</text>
<text transform="translate(58.6 74.83) scale(0.95 1)" text-anchor="end" class="b">3.0</text>
<text transform="translate(58.6 140.96) scale(0.95 1)" text-anchor="end" class="b">2.5</text>
<text transform="translate(58.6 207.89) scale(0.95 1)" text-anchor="end" class="b">2.0</text>
<text transform="translate(58.6 274.01) scale(0.95 1)" text-anchor="end" class="b">1.5</text>
<text transform="translate(58.6 340.14) scale(0.95 1)" text-anchor="end" class="b">1.0</text>
<text transform="translate(58.6 405.47) scale(0.95 1)" text-anchor="end" class="b">0.5</text>
<text transform="translate(58.6 464.75) scale(0.95 1)" text-anchor="end" class="b">0.0</text>
<text x="221.1" y="490.8" text-anchor="middle" class="b">4.60</text>
<text x="378.0" y="490.8" text-anchor="middle" class="b">4.65</text>
<text x="534.8" y="490.8" text-anchor="middle" class="b">4.70</text>
<text x="691.7" y="490.8" text-anchor="middle" class="b">4.75</text>
<text transform="translate(95.9 81.5) scale(1 1.035)" class="b lab">LLN 13 (IRAS 08375-4109)</text>
<text transform="translate(95.9 240.9) scale(1 1.035)" class="b lab">LLN 17 (IRAS 08448-4343)</text>
<text transform="translate(95.9 352.5) scale(1 1.035)" class="b lab">LLN 19 (IRAS 08470-4321)</text>
<text x="297" y="511" class="b">Wavelength <tspan dx="0.3">(</tspan><tspan class="mu" dx="0">μ</tspan><tspan dx="0.3">m)</tspan></text>
<text transform="translate(14.9 232.5) rotate(-90)" text-anchor="middle" class="b">Flux (A.U.)</text>
</svg>
</body></html>
